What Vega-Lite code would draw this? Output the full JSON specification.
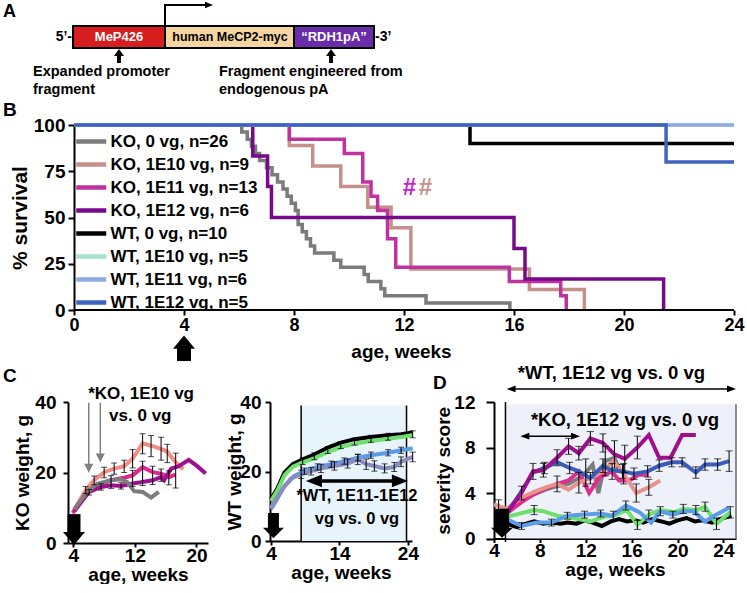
{
"$schema":"https://vega.github.io/schema/vega-lite/v6.json",
"padding":{"left":2,"top":0,"right":0,"bottom":0},
"background":"white",
"columns":1,
"align":"none",
"spacing":-6,
"config":{
 "font":"Liberation Sans",
 "view":{"stroke":null},
 "axis":{"grid":false,"domainColor":"black","domainWidth":2,"tickColor":"black","tickWidth":2,"labelColor":"black","titleColor":"black","labelFontWeight":"bold","titleFontWeight":"bold","labelFlush":false,"labelOverlap":false,"labelFont":"Liberation Sans","titleFont":"Liberation Sans"},
 "text":{"fontWeight":"bold","font":"Liberation Sans","color":"black"}
},
"resolve":{"scale":{"color":"independent","x":"independent","y":"independent"},"legend":{"color":"independent"}},
"datasets":{
 "constr":[{"part":"MeP426","x1":70,"x2":162},{"part":"MeCP2","x1":162,"x2":291},{"part":"RDH1pA","x1":291,"x2":371}],
 "surv":[
  {"g":"KO, 0 vg, n=26","t":0,"v":100},{"g":"KO, 0 vg, n=26","t":6.1,"v":96.2},{"g":"KO, 0 vg, n=26","t":6.3,"v":92.3},{"g":"KO, 0 vg, n=26","t":6.45,"v":88.5},{"g":"KO, 0 vg, n=26","t":6.6,"v":84.6},{"g":"KO, 0 vg, n=26","t":6.75,"v":80.8},{"g":"KO, 0 vg, n=26","t":7.0,"v":76.9},{"g":"KO, 0 vg, n=26","t":7.2,"v":73.1},{"g":"KO, 0 vg, n=26","t":7.4,"v":69.2},{"g":"KO, 0 vg, n=26","t":7.6,"v":65.4},{"g":"KO, 0 vg, n=26","t":7.75,"v":61.5},{"g":"KO, 0 vg, n=26","t":7.9,"v":57.7},{"g":"KO, 0 vg, n=26","t":8.05,"v":53.8},{"g":"KO, 0 vg, n=26","t":8.15,"v":46.2},{"g":"KO, 0 vg, n=26","t":8.3,"v":42.3},{"g":"KO, 0 vg, n=26","t":8.45,"v":38.5},{"g":"KO, 0 vg, n=26","t":8.6,"v":34.6},{"g":"KO, 0 vg, n=26","t":8.75,"v":30.8},{"g":"KO, 0 vg, n=26","t":9.45,"v":26.9},{"g":"KO, 0 vg, n=26","t":9.7,"v":23.1},{"g":"KO, 0 vg, n=26","t":10.55,"v":19.2},{"g":"KO, 0 vg, n=26","t":10.7,"v":15.4},{"g":"KO, 0 vg, n=26","t":11.16,"v":11.5},{"g":"KO, 0 vg, n=26","t":11.3,"v":7.7},{"g":"KO, 0 vg, n=26","t":12.8,"v":3.8},{"g":"KO, 0 vg, n=26","t":15.85,"v":0},
  {"g":"KO, 1E10 vg, n=9","t":0,"v":100},{"g":"KO, 1E10 vg, n=9","t":7.83,"v":88.9},{"g":"KO, 1E10 vg, n=9","t":8.68,"v":77.8},{"g":"KO, 1E10 vg, n=9","t":9.7,"v":66.7},{"g":"KO, 1E10 vg, n=9","t":10.68,"v":55.6},{"g":"KO, 1E10 vg, n=9","t":11.53,"v":44.4},{"g":"KO, 1E10 vg, n=9","t":12.25,"v":22.2},{"g":"KO, 1E10 vg, n=9","t":16.56,"v":11.1},{"g":"KO, 1E10 vg, n=9","t":18.56,"v":0},
  {"g":"KO, 1E11 vg, n=13","t":0,"v":100},{"g":"KO, 1E11 vg, n=13","t":7.83,"v":92.3},{"g":"KO, 1E11 vg, n=13","t":9.83,"v":84.6},{"g":"KO, 1E11 vg, n=13","t":10.5,"v":69.2},{"g":"KO, 1E11 vg, n=13","t":10.8,"v":61.5},{"g":"KO, 1E11 vg, n=13","t":11.04,"v":53.8},{"g":"KO, 1E11 vg, n=13","t":11.4,"v":38.5},{"g":"KO, 1E11 vg, n=13","t":11.7,"v":23.1},{"g":"KO, 1E11 vg, n=13","t":15.83,"v":15.4},{"g":"KO, 1E11 vg, n=13","t":17.7,"v":7.7},{"g":"KO, 1E11 vg, n=13","t":17.9,"v":0},
  {"g":"KO, 1E12 vg, n=6","t":0,"v":100},{"g":"KO, 1E12 vg, n=6","t":6.5,"v":83.3},{"g":"KO, 1E12 vg, n=6","t":7.04,"v":66.7},{"g":"KO, 1E12 vg, n=6","t":7.18,"v":50},{"g":"KO, 1E12 vg, n=6","t":16.0,"v":33.3},{"g":"KO, 1E12 vg, n=6","t":16.4,"v":16.7},{"g":"KO, 1E12 vg, n=6","t":21.44,"v":0},
  {"g":"WT, 0 vg, n=10","t":0,"v":100},{"g":"WT, 0 vg, n=10","t":14.4,"v":90},{"g":"WT, 0 vg, n=10","t":24,"v":90},
  {"g":"WT, 1E10 vg, n=5","t":0,"v":100},{"g":"WT, 1E10 vg, n=5","t":24,"v":100},
  {"g":"WT, 1E11 vg, n=6","t":0,"v":100},{"g":"WT, 1E11 vg, n=6","t":24,"v":100},
  {"g":"WT, 1E12 vg, n=5","t":0,"v":100},{"g":"WT, 1E12 vg, n=5","t":21.53,"v":80},{"g":"WT, 1E12 vg, n=5","t":24,"v":80}
 ],
 "kow":[
  {"g":"KO 1E10","t":4.1,"v":9.4},{"g":"KO 1E10","t":5.6,"v":15.0},{"g":"KO 1E10","t":6.7,"v":17.8},{"g":"KO 1E10","t":8.0,"v":20.1},{"g":"KO 1E10","t":9.3,"v":21.1},{"g":"KO 1E10","t":10.6,"v":21.8},{"g":"KO 1E10","t":11.7,"v":23.9},{"g":"KO 1E10","t":13.0,"v":28.3},{"g":"KO 1E10","t":14.1,"v":27.6},{"g":"KO 1E10","t":15.4,"v":26.7},{"g":"KO 1E10","t":16.2,"v":25.9},{"g":"KO 1E10","t":17.3,"v":22.9},{"g":"KO 1E10","t":18.3,"v":20.9},
  {"g":"KO 1E11","t":3.9,"v":8.5},{"g":"KO 1E11","t":5.8,"v":14.5},{"g":"KO 1E11","t":7.1,"v":16.4},{"g":"KO 1E11","t":8.9,"v":17.8},{"g":"KO 1E11","t":10.6,"v":18.5},{"g":"KO 1E11","t":11.7,"v":19.2},{"g":"KO 1E11","t":13.0,"v":21.5},{"g":"KO 1E11","t":14.3,"v":20.1},{"g":"KO 1E11","t":15.4,"v":19.7},{"g":"KO 1E11","t":16.4,"v":18.7},{"g":"KO 1E11","t":17.3,"v":19.4},
  {"g":"KO 1E12","t":4.1,"v":9.0},{"g":"KO 1E12","t":6.05,"v":14.5},{"g":"KO 1E12","t":7.6,"v":15.9},{"g":"KO 1E12","t":8.9,"v":16.4},{"g":"KO 1E12","t":10.2,"v":16.2},{"g":"KO 1E12","t":11.7,"v":16.9},{"g":"KO 1E12","t":13.0,"v":17.3},{"g":"KO 1E12","t":14.3,"v":17.8},{"g":"KO 1E12","t":15.4,"v":18.7},{"g":"KO 1E12","t":15.8,"v":17.8},{"g":"KO 1E12","t":16.7,"v":21.1},{"g":"KO 1E12","t":17.7,"v":21.8},{"g":"KO 1E12","t":19.0,"v":23.6},{"g":"KO 1E12","t":20.1,"v":21.8},{"g":"KO 1E12","t":21.2,"v":19.7},
  {"g":"KO 0","t":4.1,"v":9.5},{"g":"KO 0","t":5.8,"v":14.5},{"g":"KO 0","t":7.1,"v":16.8},{"g":"KO 0","t":8.9,"v":17.8},{"g":"KO 0","t":10.2,"v":18.1},{"g":"KO 0","t":11.0,"v":17.3},{"g":"KO 0","t":11.9,"v":14.7},{"g":"KO 0","t":13.0,"v":14.5},{"g":"KO 0","t":14.1,"v":12.9},{"g":"KO 0","t":15.1,"v":14.5}
 ],
 "kow_err":[
  {"t":5.6,"lo":14.0,"hi":16.0},{"t":6.7,"lo":16.5,"hi":19.0},{"t":8.0,"lo":18.5,"hi":21.5},{"t":9.3,"lo":19.5,"hi":22.7},{"t":10.6,"lo":20.0,"hi":23.5},{"t":11.7,"lo":21.3,"hi":26.5},{"t":13.0,"lo":25.3,"hi":31.0},{"t":14.1,"lo":24.5,"hi":30.5},{"t":15.4,"lo":23.5,"hi":30.0},{"t":16.2,"lo":22.8,"hi":28.0},{"t":17.3,"lo":15.6,"hi":25.5},
  {"t":6.05,"lo":13.6,"hi":15.2},{"t":7.6,"lo":15.0,"hi":16.8},{"t":8.9,"lo":15.5,"hi":19.1},{"t":10.2,"lo":15.3,"hi":17.1},{"t":11.7,"lo":16.0,"hi":20.6},{"t":13.0,"lo":16.3,"hi":23.2},{"t":14.3,"lo":16.6,"hi":21.8},{"t":15.4,"lo":17.5,"hi":21.0},{"t":16.4,"lo":16.5,"hi":20.5}
 ],
 "wtw":[
  {"g":"WT 0","t":4,"v":12.0},{"g":"WT 0","t":4.97,"v":15.3},{"g":"WT 0","t":5.95,"v":19.7},{"g":"WT 0","t":7.17,"v":22.1},{"g":"WT 0","t":8.63,"v":23.5},{"g":"WT 0","t":10.33,"v":24.9},{"g":"WT 0","t":12.3,"v":26.9},{"g":"WT 0","t":14.2,"v":28.3},{"g":"WT 0","t":16.2,"v":29.3},{"g":"WT 0","t":18.6,"v":29.9},{"g":"WT 0","t":21.1,"v":30.4},{"g":"WT 0","t":23.0,"v":30.7},{"g":"WT 0","t":24.7,"v":31.2},
  {"g":"WT 1E10","t":4,"v":11.5},{"g":"WT 1E10","t":5,"v":14.8},{"g":"WT 1E10","t":6,"v":19.0},{"g":"WT 1E10","t":7.2,"v":21.4},{"g":"WT 1E10","t":8.6,"v":22.6},{"g":"WT 1E10","t":10.3,"v":23.8},{"g":"WT 1E10","t":12.3,"v":25.6},{"g":"WT 1E10","t":14.2,"v":27.0},{"g":"WT 1E10","t":16.2,"v":28.0},{"g":"WT 1E10","t":18.6,"v":28.8},{"g":"WT 1E10","t":21.1,"v":29.4},{"g":"WT 1E10","t":23.0,"v":29.9},{"g":"WT 1E10","t":24.7,"v":30.5},
  {"g":"WT 1E11","t":4,"v":9.2},{"g":"WT 1E11","t":4.73,"v":11.5},{"g":"WT 1E11","t":5.95,"v":15.8},{"g":"WT 1E11","t":7.4,"v":18.7},{"g":"WT 1E11","t":8.87,"v":20.1},{"g":"WT 1E11","t":10.8,"v":21.3},{"g":"WT 1E11","t":12.8,"v":22.1},{"g":"WT 1E11","t":14.7,"v":23.0},{"g":"WT 1E11","t":16.7,"v":24.0},{"g":"WT 1E11","t":18.6,"v":24.7},{"g":"WT 1E11","t":21.1,"v":25.4},{"g":"WT 1E11","t":23.0,"v":26.1},{"g":"WT 1E11","t":24.7,"v":26.7},
  {"g":"WT 1E12","t":4,"v":9.6},{"g":"WT 1E12","t":5.46,"v":14.4},{"g":"WT 1E12","t":6.92,"v":18.0},{"g":"WT 1E12","t":8.39,"v":19.2},{"g":"WT 1E12","t":9.85,"v":20.1},{"g":"WT 1E12","t":11.3,"v":20.9},{"g":"WT 1E12","t":13.26,"v":21.6},{"g":"WT 1E12","t":15.2,"v":22.3},{"g":"WT 1E12","t":16.67,"v":23.5},{"g":"WT 1E12","t":17.9,"v":22.1},{"g":"WT 1E12","t":19.1,"v":21.6},{"g":"WT 1E12","t":20.6,"v":20.9},{"g":"WT 1E12","t":22.0,"v":21.3},{"g":"WT 1E12","t":23.0,"v":22.8},{"g":"WT 1E12","t":24.7,"v":24.2}
 ],
 "wtw_err":[
  {"t":8.4,"lo":18.0,"hi":20.4},{"t":9.85,"lo":19.0,"hi":21.2},{"t":11.3,"lo":19.7,"hi":22.1},{"t":13.26,"lo":20.4,"hi":22.8},{"t":15.2,"lo":21.0,"hi":23.6},{"t":16.67,"lo":22.0,"hi":25.0},{"t":17.9,"lo":20.6,"hi":23.6},{"t":19.1,"lo":20.1,"hi":23.1},{"t":20.6,"lo":19.6,"hi":22.2},{"t":22.0,"lo":20.0,"hi":22.6},{"t":23.0,"lo":21.4,"hi":24.2},{"t":24.7,"lo":22.8,"hi":25.6},
  {"t":8.87,"lo":19.2,"hi":21.0},{"t":10.8,"lo":20.4,"hi":22.2},{"t":12.8,"lo":21.2,"hi":23.0},{"t":14.7,"lo":22.1,"hi":23.9},{"t":16.7,"lo":23.1,"hi":24.9},{"t":18.6,"lo":23.8,"hi":25.6},{"t":21.1,"lo":24.5,"hi":26.3},{"t":23.0,"lo":25.2,"hi":27.0},
  {"t":8.63,"lo":22.0,"hi":24.0},{"t":10.33,"lo":23.4,"hi":25.4},{"t":12.3,"lo":25.2,"hi":27.2},{"t":14.2,"lo":26.6,"hi":28.6},{"t":16.2,"lo":27.6,"hi":29.6},{"t":18.6,"lo":28.4,"hi":30.4},{"t":21.1,"lo":29.0,"hi":31.0},{"t":24.7,"lo":29.7,"hi":31.7}
 ],
 "sev":[
  {"g":"WT 0","t":5.1,"v":1.3},{"g":"WT 0","t":6.0,"v":1.0},{"g":"WT 0","t":6.8,"v":1.3},{"g":"WT 0","t":7.5,"v":1.5},{"g":"WT 0","t":8.3,"v":1.3},{"g":"WT 0","t":9.0,"v":1.4},{"g":"WT 0","t":9.8,"v":1.3},{"g":"WT 0","t":10.4,"v":1.4},{"g":"WT 0","t":11.2,"v":1.3},{"g":"WT 0","t":11.9,"v":1.6},{"g":"WT 0","t":12.6,"v":1.4},{"g":"WT 0","t":13.4,"v":1.1},{"g":"WT 0","t":14.2,"v":1.5},{"g":"WT 0","t":14.9,"v":1.7},{"g":"WT 0","t":15.6,"v":1.5},{"g":"WT 0","t":16.3,"v":1.6},{"g":"WT 0","t":17.0,"v":1.4},{"g":"WT 0","t":17.8,"v":1.7},{"g":"WT 0","t":18.6,"v":1.5},{"g":"WT 0","t":19.3,"v":1.3},{"g":"WT 0","t":20.0,"v":1.6},{"g":"WT 0","t":20.8,"v":1.8},{"g":"WT 0","t":21.5,"v":1.5},{"g":"WT 0","t":22.2,"v":1.6},{"g":"WT 0","t":23.0,"v":1.4},{"g":"WT 0","t":23.7,"v":1.7},{"g":"WT 0","t":24.7,"v":2.0},
  {"g":"WT 1E10","t":5.1,"v":1.9},{"g":"WT 1E10","t":6.3,"v":2.2},{"g":"WT 1E10","t":7.5,"v":2.5},{"g":"WT 1E10","t":8.3,"v":2.4},{"g":"WT 1E10","t":9.5,"v":2.0},{"g":"WT 1E10","t":10.9,"v":1.8},{"g":"WT 1E10","t":12.4,"v":1.5},{"g":"WT 1E10","t":13.6,"v":1.9},{"g":"WT 1E10","t":14.4,"v":2.0},{"g":"WT 1E10","t":15.6,"v":2.5},{"g":"WT 1E10","t":16.5,"v":1.2},{"g":"WT 1E10","t":17.5,"v":2.1},{"g":"WT 1E10","t":18.5,"v":2.5},{"g":"WT 1E10","t":19.7,"v":2.3},{"g":"WT 1E10","t":20.5,"v":2.6},{"g":"WT 1E10","t":21.7,"v":2.5},{"g":"WT 1E10","t":22.4,"v":2.8},{"g":"WT 1E10","t":23.4,"v":1.3},{"g":"WT 1E10","t":24.6,"v":2.3},
  {"g":"WT 1E11","t":5.1,"v":1.7},{"g":"WT 1E11","t":6.4,"v":1.1},{"g":"WT 1E11","t":7.7,"v":1.4},{"g":"WT 1E11","t":9.0,"v":1.4},{"g":"WT 1E11","t":10.4,"v":2.0},{"g":"WT 1E11","t":11.9,"v":2.1},{"g":"WT 1E11","t":13.3,"v":2.2},{"g":"WT 1E11","t":14.3,"v":2.0},{"g":"WT 1E11","t":15.5,"v":2.9},{"g":"WT 1E11","t":16.7,"v":2.3},{"g":"WT 1E11","t":17.7,"v":1.4},{"g":"WT 1E11","t":18.5,"v":2.4},{"g":"WT 1E11","t":19.6,"v":2.1},{"g":"WT 1E11","t":20.6,"v":2.4},{"g":"WT 1E11","t":21.4,"v":2.4},{"g":"WT 1E11","t":22.4,"v":1.5},{"g":"WT 1E11","t":23.4,"v":2.1},{"g":"WT 1E11","t":24.5,"v":2.7},
  {"g":"KO 0","t":5.1,"v":2.5},{"g":"KO 0","t":6.3,"v":3.3},{"g":"KO 0","t":7.5,"v":3.9},{"g":"KO 0","t":8.5,"v":4.3},{"g":"KO 0","t":9.5,"v":4.6},{"g":"KO 0","t":10.5,"v":4.8},{"g":"KO 0","t":11.4,"v":5.3},{"g":"KO 0","t":12.0,"v":5.8},{"g":"KO 0","t":12.6,"v":6.5},{"g":"KO 0","t":13.1,"v":4.0},{"g":"KO 0","t":13.7,"v":6.8},{"g":"KO 0","t":14.5,"v":7.1},{"g":"KO 0","t":14.9,"v":6.2},
  {"g":"KO 1E11","t":5.1,"v":2.2},{"g":"KO 1E11","t":6.4,"v":3.2},{"g":"KO 1E11","t":7.5,"v":3.9},{"g":"KO 1E11","t":8.5,"v":4.4},{"g":"KO 1E11","t":9.5,"v":4.8},{"g":"KO 1E11","t":10.5,"v":5.1},{"g":"KO 1E11","t":11.4,"v":5.9},{"g":"KO 1E11","t":12.3,"v":4.0},{"g":"KO 1E11","t":13.2,"v":5.4},{"g":"KO 1E11","t":14.3,"v":5.9},{"g":"KO 1E11","t":14.9,"v":5.1},{"g":"KO 1E11","t":15.8,"v":5.1},{"g":"KO 1E11","t":16.6,"v":5.6},{"g":"KO 1E11","t":17.5,"v":5.6},
  {"g":"KO 1E10","t":4.0,"v":3.0},{"g":"KO 1E10","t":5.1,"v":2.6},{"g":"KO 1E10","t":6.4,"v":3.6},{"g":"KO 1E10","t":7.5,"v":4.1},{"g":"KO 1E10","t":8.5,"v":4.5},{"g":"KO 1E10","t":9.5,"v":4.8},{"g":"KO 1E10","t":10.5,"v":4.3},{"g":"KO 1E10","t":11.4,"v":4.9},{"g":"KO 1E10","t":12.4,"v":5.3},{"g":"KO 1E10","t":13.5,"v":5.9},{"g":"KO 1E10","t":14.4,"v":6.8},{"g":"KO 1E10","t":15.3,"v":5.7},{"g":"KO 1E10","t":16.4,"v":4.0},{"g":"KO 1E10","t":17.5,"v":4.5},{"g":"KO 1E10","t":18.5,"v":5.1},
  {"g":"WT 1E12","t":5.1,"v":2.2},{"g":"WT 1E12","t":6.3,"v":4.0},{"g":"WT 1E12","t":7.4,"v":5.8},{"g":"WT 1E12","t":8.4,"v":6.2},{"g":"WT 1E12","t":9.5,"v":6.7},{"g":"WT 1E12","t":10.6,"v":6.2},{"g":"WT 1E12","t":11.4,"v":5.9},{"g":"WT 1E12","t":12.4,"v":5.3},{"g":"WT 1E12","t":13.5,"v":6.4},{"g":"WT 1E12","t":14.2,"v":6.0},{"g":"WT 1E12","t":15.2,"v":5.9},{"g":"WT 1E12","t":16.2,"v":5.7},{"g":"WT 1E12","t":17.4,"v":5.9},{"g":"WT 1E12","t":18.4,"v":6.4},{"g":"WT 1E12","t":19.5,"v":6.7},{"g":"WT 1E12","t":20.4,"v":6.7},{"g":"WT 1E12","t":21.6,"v":5.8},{"g":"WT 1E12","t":22.4,"v":6.5},{"g":"WT 1E12","t":23.5,"v":6.5},{"g":"WT 1E12","t":24.5,"v":6.8},
  {"g":"KO 1E12","t":5.1,"v":2.2},{"g":"KO 1E12","t":6.4,"v":4.0},{"g":"KO 1E12","t":7.4,"v":5.9},{"g":"KO 1E12","t":8.3,"v":6.0},{"g":"KO 1E12","t":9.5,"v":7.1},{"g":"KO 1E12","t":10.5,"v":8.1},{"g":"KO 1E12","t":11.4,"v":7.5},{"g":"KO 1E12","t":12.4,"v":8.8},{"g":"KO 1E12","t":13.5,"v":8.4},{"g":"KO 1E12","t":14.5,"v":7.4},{"g":"KO 1E12","t":15.4,"v":7.0},{"g":"KO 1E12","t":16.5,"v":8.0},{"g":"KO 1E12","t":17.5,"v":9.1},{"g":"KO 1E12","t":18.4,"v":7.1},{"g":"KO 1E12","t":19.4,"v":7.1},{"g":"KO 1E12","t":20.4,"v":9.1},{"g":"KO 1E12","t":21.6,"v":9.1}
 ],
 "sev_err":[
  {"t":4.4,"lo":2.4,"hi":3.4},
  {"t":6.4,"lo":3.4,"hi":4.6},{"t":7.4,"lo":5.2,"hi":6.6},{"t":8.3,"lo":5.4,"hi":6.6},{"t":9.5,"lo":6.4,"hi":7.8},{"t":10.5,"lo":7.4,"hi":8.8},{"t":11.4,"lo":6.9,"hi":8.1},{"t":12.4,"lo":8.2,"hi":9.4},{"t":13.5,"lo":7.6,"hi":9.2},{"t":14.5,"lo":6.2,"hi":8.6},{"t":15.4,"lo":5.8,"hi":8.2},{"t":16.5,"lo":7.0,"hi":9.0},
  {"t":8.4,"lo":5.7,"hi":6.7},{"t":10.6,"lo":5.7,"hi":6.7},{"t":12.4,"lo":4.8,"hi":5.8},{"t":13.5,"lo":5.8,"hi":7.0},{"t":15.2,"lo":5.3,"hi":6.5},{"t":16.2,"lo":5.2,"hi":6.2},{"t":17.4,"lo":5.4,"hi":6.4},{"t":18.4,"lo":5.9,"hi":6.9},{"t":19.5,"lo":6.3,"hi":7.1},{"t":20.4,"lo":6.3,"hi":7.1},{"t":21.6,"lo":5.3,"hi":6.3},{"t":22.4,"lo":6.0,"hi":7.0},{"t":23.5,"lo":6.0,"hi":7.0},{"t":24.5,"lo":5.9,"hi":7.7},
  {"t":9.5,"lo":4.1,"hi":5.5},{"t":11.4,"lo":4.0,"hi":5.8},{"t":12.0,"lo":4.6,"hi":7.0},{"t":13.7,"lo":5.5,"hi":8.1},{"t":15.3,"lo":4.8,"hi":6.6},{"t":16.4,"lo":3.2,"hi":4.8},{"t":17.5,"lo":3.8,"hi":5.2},{"t":14.3,"lo":5.2,"hi":6.6},
  {"t":5.1,"lo":1.4,"hi":2.4},{"t":6.4,"lo":0.8,"hi":1.4},{"t":7.5,"lo":2.1,"hi":2.9},{"t":9.0,"lo":1.1,"hi":1.7},{"t":10.4,"lo":1.7,"hi":2.3},{"t":11.9,"lo":1.8,"hi":2.4},{"t":13.3,"lo":1.9,"hi":2.5},{"t":14.4,"lo":1.6,"hi":2.4},{"t":15.5,"lo":2.5,"hi":3.3},{"t":16.5,"lo":0.8,"hi":1.6},{"t":17.5,"lo":1.7,"hi":2.5},{"t":18.5,"lo":2.0,"hi":2.8},{"t":19.6,"lo":1.8,"hi":2.4},{"t":20.5,"lo":2.2,"hi":3.0},{"t":21.6,"lo":2.1,"hi":2.9},{"t":22.4,"lo":2.4,"hi":3.2},{"t":23.4,"lo":0.8,"hi":1.8},{"t":24.6,"lo":1.8,"hi":2.8}
 ]
},
"concat":[
 {
  "width":676,"height":107,
  "layer":[
   {"data":{"name":"constr"},"mark":{"type":"rect","stroke":"black","strokeWidth":2},
    "encoding":{"x":{"field":"x1","type":"quantitative","scale":{"domain":[65,741],"nice":false,"zero":false},"axis":null},"x2":{"field":"x2"},
     "y":{"datum":26,"type":"quantitative","scale":{"domain":[0,107],"reverse":true,"nice":false,"zero":false},"axis":null},"y2":{"datum":48},
     "color":{"field":"part","type":"nominal","scale":{"domain":["MeP426","MeCP2","RDH1pA"],"range":["#d61e1e","#f6d6a0","#6a2caa"]},"legend":null}}},
   {"data":{"values":[{"lab":"MeP426","x":116},{"lab":"“RDH1pA”","x":331}]},"mark":{"type":"text","color":"white","fontSize":13},
    "encoding":{"x":{"field":"x","type":"quantitative","axis":null},"y":{"datum":37,"type":"quantitative","axis":null},"text":{"field":"lab"}}},
   {"data":{"values":[{"lab":"human MeCP2-myc","x":227}]},"mark":{"type":"text","color":"black","fontSize":12.5},
    "encoding":{"x":{"field":"x","type":"quantitative","axis":null},"y":{"datum":37,"type":"quantitative","axis":null},"text":{"field":"lab"}}},
   {"data":{"values":[{"lab":"5’-","x":69}]},"mark":{"type":"text","align":"right","fontSize":14},
    "encoding":{"x":{"field":"x","type":"quantitative","axis":null},"y":{"datum":37,"type":"quantitative","axis":null},"text":{"field":"lab"}}},
   {"data":{"values":[{"lab":"-3’","x":372}]},"mark":{"type":"text","align":"left","fontSize":14},
    "encoding":{"x":{"field":"x","type":"quantitative","axis":null},"y":{"datum":37,"type":"quantitative","axis":null},"text":{"field":"lab"}}},
   {"data":{"values":[{"lab":"Expanded promoter","x":30,"y":76},{"lab":"fragment","x":30,"y":94},{"lab":"Fragment engineered from","x":216,"y":76},{"lab":"endogenous pA","x":216,"y":94}]},
    "mark":{"type":"text","align":"left","baseline":"alphabetic","fontSize":14.5},
    "encoding":{"x":{"field":"x","type":"quantitative","axis":null},"y":{"field":"y","type":"quantitative","axis":null},"text":{"field":"lab"}}},
   {"data":{"values":[{"x":162,"y":26,"o":0},{"x":162,"y":5,"o":1},{"x":204,"y":5,"o":2}]},"mark":{"type":"line","color":"black","strokeWidth":2},
    "encoding":{"x":{"field":"x","type":"quantitative","axis":null},"y":{"field":"y","type":"quantitative","axis":null},"order":{"field":"o"}}},
   {"data":{"values":[{"x":206,"y":5}]},"mark":{"type":"point","shape":"M-1,-0.8L-1,0.8L1,0Z","size":64,"filled":true,"opacity":1,"color":"black","strokeWidth":0},
    "encoding":{"x":{"field":"x","type":"quantitative","axis":null},"y":{"field":"y","type":"quantitative","axis":null}}},
   {"data":{"values":[{"x":116},{"x":328}]},"mark":{"type":"rule","color":"black","strokeWidth":4},
    "encoding":{"x":{"field":"x","type":"quantitative","axis":null},"y":{"datum":55,"type":"quantitative","axis":null},"y2":{"datum":63}}},
   {"data":{"values":[{"x":116},{"x":328}]},"mark":{"type":"point","shape":"M-1,0.7L1,0.7L0,-0.7Z","size":100,"filled":true,"opacity":1,"color":"black","strokeWidth":0},
    "encoding":{"x":{"field":"x","type":"quantitative","axis":null},"y":{"datum":52.5,"type":"quantitative","axis":null}}},
   {"data":{"values":[{"lab":"A","x":0,"y":12}]},"mark":{"type":"text","align":"left","fontSize":18},
    "encoding":{"x":{"field":"x","type":"quantitative","axis":null},"y":{"field":"y","type":"quantitative","axis":null},"text":{"field":"lab"}}}
  ]
 },
 {
  "width":666,"height":185,
  "layer":[
   {"data":{"name":"surv"},"mark":{"type":"line","interpolate":"step-after","strokeWidth":3.5},
    "encoding":{
     "x":{"field":"t","type":"quantitative","scale":{"domain":[-0.218,24],"nice":false,"zero":false},"axis":{"values":[0,4,8,12,16,20,24],"domain":false,"title":"age, weeks","labelFontSize":18,"titleFontSize":19,"tickSize":5,"labelPadding":1,"titlePadding":8}},
     "y":{"field":"v","type":"quantitative","scale":{"domain":[0,100],"nice":false},"axis":{"values":[0,25,50,75,100],"offset":-6,"title":"% survival","labelFontSize":19,"titleFontSize":21,"tickSize":6,"labelPadding":3,"titlePadding":3}},
     "color":{"field":"g","type":"nominal","scale":{"domain":["KO, 0 vg, n=26","KO, 1E10 vg, n=9","KO, 1E11 vg, n=13","KO, 1E12 vg, n=6","WT, 0 vg, n=10","WT, 1E10 vg, n=5","WT, 1E11 vg, n=6","WT, 1E12 vg, n=5"],"range":["#7b7b7b","#c4908a","#c032a0","#760a8a","#000000","#a6e3cc","#8faadf","#3f63c0"]},
      "legend":{"orient":"none","legendX":14.75,"legendY":8,"title":null,"symbolType":"M-3,0H3","symbolSize":100,"symbolStrokeWidth":4.5,"symbolOpacity":1,"symbolFillColor":"transparent","labelFontSize":17,"labelFontWeight":"bold","labelFont":"Liberation Sans","labelColor":"black","rowPadding":4,"labelOffset":10.75,"labelLimit":300,"padding":0}}}},
   {"data":{"values":[{}]},"mark":{"type":"rule","strokeWidth":2,"color":"black"},"encoding":{"x":{"datum":0,"type":"quantitative"},"x2":{"datum":24},"y":{"datum":0,"type":"quantitative"}}},
   {"data":{"values":[{}]},"mark":{"type":"text","text":"#","fontSize":24,"color":"#c81ec8"},"encoding":{"x":{"datum":12.2,"type":"quantitative"},"y":{"datum":66,"type":"quantitative"}}},
   {"data":{"values":[{}]},"mark":{"type":"text","text":"#","fontSize":24,"color":"#c4908a"},"encoding":{"x":{"datum":12.78,"type":"quantitative"},"y":{"datum":66,"type":"quantitative"}}},
   {"data":{"values":[{}]},"mark":{"type":"rule","strokeWidth":14,"color":"black"},"encoding":{"x":{"datum":4,"type":"quantitative"},"y":{"datum":-20.5,"type":"quantitative"},"y2":{"datum":-27.6}}},
   {"data":{"values":[{}]},"mark":{"type":"point","shape":"M-1,0.6L1,0.6L0,-0.6Z","size":484,"filled":true,"opacity":1,"color":"black","strokeWidth":0},"encoding":{"x":{"datum":4,"type":"quantitative"},"y":{"datum":-17.4,"type":"quantitative"}}},
   {"data":{"values":[{}]},"mark":{"type":"text","text":"B","fontSize":19,"align":"left"},"encoding":{"x":{"datum":-2.58,"type":"quantitative"},"y":{"datum":108,"type":"quantitative"}}}
  ]
 },
 {"hconcat":[
  {"hconcat":[
  {
   "width":140,"height":141,
   "layer":[
    {"data":{"name":"kow"},"mark":{"type":"line","strokeWidth":4},"encoding":{
     "x":{"field":"t","type":"quantitative","scale":{"domain":[3.3,21.5],"nice":false,"zero":false},"axis":{"values":[4,8,12,16,20],"title":"age, weeks","labelFontSize":19,"titleFontSize":19,"tickSize":4,"labelPadding":-1,"titlePadding":0}},
     "y":{"field":"v","type":"quantitative","scale":{"domain":[0,40],"nice":false},"axis":{"values":[0,10,20,30,40],"title":"KO weight, g","labelFontSize":19,"titleFontSize":19,"tickSize":5,"labelPadding":7,"titlePadding":2}},
     "color":{"field":"g","type":"nominal","scale":{"domain":["KO 1E10","KO 1E11","KO 1E12","KO 0"],"range":["#f08e86","#e0268e","#a0108e","#7d7d7d"]},"legend":null}}},
    {"data":{"name":"kow_err"},"mark":{"type":"errorbar","ticks":true,"size":6,"thickness":1,"color":"black"},"encoding":{"x":{"field":"t","type":"quantitative","title":"age, weeks"},"y":{"field":"lo","type":"quantitative","title":"KO weight, g"},"y2":{"field":"hi"}}},
    {"data":{"values":[{"t":6.0,"a":39.8,"b":22.0},{"t":7.5,"a":39.8,"b":24.9}]},"mark":{"type":"rule","color":"#808080","strokeWidth":1.5},"encoding":{"x":{"field":"t","type":"quantitative","title":"age, weeks"},"y":{"field":"a","type":"quantitative","title":"KO weight, g"},"y2":{"field":"b"}}},
    {"data":{"values":[{"t":6.0,"c":21.2},{"t":7.5,"c":24.1}]},"mark":{"type":"point","shape":"M-1,-1L1,-1L0,1Z","size":81,"filled":true,"opacity":1,"color":"#808080","strokeWidth":0},"encoding":{"x":{"field":"t","type":"quantitative","title":"age, weeks"},"y":{"field":"c","type":"quantitative","title":"KO weight, g"}}},
    {"data":{"values":[{}]},"mark":{"type":"rule","strokeWidth":13,"color":"black"},"encoding":{"x":{"datum":4.08,"type":"quantitative"},"y":{"datum":8.2,"type":"quantitative"},"y2":{"datum":2.8}}},
    {"data":{"values":[{}]},"mark":{"type":"point","shape":"M-1,-0.6L1,-0.6L0,0.6Z","size":484,"filled":true,"opacity":1,"color":"black","strokeWidth":0},"encoding":{"x":{"datum":4.08,"type":"quantitative"},"y":{"datum":1.28,"type":"quantitative"}}},
    {"data":{"values":[{}]},"mark":{"type":"text","text":"*KO, 1E10 vg","fontSize":17},"encoding":{"x":{"datum":12.8,"type":"quantitative"},"y":{"datum":42.3,"type":"quantitative"}}},
    {"data":{"values":[{}]},"mark":{"type":"text","text":"vs. 0 vg","fontSize":17},"encoding":{"x":{"datum":12.7,"type":"quantitative"},"y":{"datum":36.0,"type":"quantitative"}}},
    {"data":{"values":[{}]},"mark":{"type":"text","text":"C","fontSize":19,"align":"left"},"encoding":{"x":{"datum":-5.16,"type":"quantitative"},"y":{"datum":47.4,"type":"quantitative"}}}
   ]
  },
  {
   "width":142,"height":139,
   "layer":[
    {"data":{"values":[{}]},"mark":{"type":"rect","color":"#e8f4fc"},"encoding":{"x":{"datum":8.4,"type":"quantitative"},"x2":{"datum":23.8},"y":{"datum":0,"type":"quantitative"},"y2":{"datum":39}}},
    {"data":{"values":[{"t":8.4},{"t":23.8}]},"mark":{"type":"rule","color":"black","strokeWidth":1.5},"encoding":{"x":{"field":"t","type":"quantitative","title":"age, weeks"},"y":{"datum":0,"type":"quantitative"},"y2":{"datum":39}}},
    {"data":{"name":"wtw"},"mark":{"type":"line","strokeWidth":4},"encoding":{
     "x":{"field":"t","type":"quantitative","scale":{"domain":[3.85,24.6],"nice":false,"zero":false},"axis":{"values":[4,9,14,19,24],"title":"age, weeks","labelFontSize":19,"titleFontSize":19,"tickSize":4,"labelPadding":-1,"titlePadding":0}},
     "y":{"field":"v","type":"quantitative","scale":{"domain":[0,40],"nice":false},"axis":{"values":[0,10,20,30,40],"title":"WT weight, g","labelFontSize":19,"titleFontSize":19,"tickSize":5,"labelPadding":4,"titlePadding":-5}},
     "color":{"field":"g","type":"nominal","scale":{"domain":["WT 0","WT 1E10","WT 1E11","WT 1E12"],"range":["#000000","#6ee06e","#5b9be8","#8a8cc0"]},"legend":null}}},
    {"data":{"name":"wtw_err"},"mark":{"type":"errorbar","ticks":true,"size":6,"thickness":1,"color":"black"},"encoding":{"x":{"field":"t","type":"quantitative","title":"age, weeks"},"y":{"field":"lo","type":"quantitative","title":"WT weight, g"},"y2":{"field":"hi"}}},
    {"data":{"values":[{}]},"mark":{"type":"rule","strokeWidth":3.5,"color":"black"},"encoding":{"x":{"datum":10.4,"type":"quantitative"},"x2":{"datum":22.7},"y":{"datum":17.3,"type":"quantitative"}}},
    {"data":{"values":[{}]},"mark":{"type":"point","shape":"M1,-0.8L1,0.8L-1,0Z","size":256,"filled":true,"opacity":1,"color":"black","strokeWidth":0},"encoding":{"x":{"datum":10.27,"type":"quantitative"},"y":{"datum":17.3,"type":"quantitative"}}},
    {"data":{"values":[{}]},"mark":{"type":"point","shape":"M-1,-0.8L-1,0.8L1,0Z","size":256,"filled":true,"opacity":1,"color":"black","strokeWidth":0},"encoding":{"x":{"datum":22.83,"type":"quantitative"},"y":{"datum":17.3,"type":"quantitative"}}},
    {"data":{"values":[{}]},"mark":{"type":"text","text":"*WT, 1E11-1E12","fontSize":16.5},"encoding":{"x":{"datum":16.56,"type":"quantitative"},"y":{"datum":12.95,"type":"quantitative"}}},
    {"data":{"values":[{}]},"mark":{"type":"text","text":"vg vs. 0 vg","fontSize":16.5},"encoding":{"x":{"datum":16.56,"type":"quantitative"},"y":{"datum":6.33,"type":"quantitative"}}},
    {"data":{"values":[{}]},"mark":{"type":"rule","strokeWidth":11,"color":"black"},"encoding":{"x":{"datum":4.35,"type":"quantitative"},"y":{"datum":8.06,"type":"quantitative"},"y2":{"datum":3.3}}},
    {"data":{"values":[{}]},"mark":{"type":"point","shape":"M-1,-0.5L1,-0.5L0,0.5Z","size":441,"filled":true,"opacity":1,"color":"black","strokeWidth":0},"encoding":{"x":{"datum":4.35,"type":"quantitative"},"y":{"datum":2.3,"type":"quantitative"}}}
   ]
  }
  ],"spacing":11,"resolve":{"scale":{"color":"independent","x":"independent","y":"independent"},"legend":{"color":"independent"}}},
  {
   "width":242,"height":136.5,
   "layer":[
    {"data":{"values":[{}]},"mark":{"type":"rect","color":"#eef1f9"},"encoding":{"x":{"datum":5,"type":"quantitative"},"x2":{"datum":25.1},"y":{"datum":0,"type":"quantitative"},"y2":{"datum":11.8}}},
    {"data":{"values":[{}]},"mark":{"type":"rule","color":"black","strokeWidth":1.5},"encoding":{"x":{"datum":5,"type":"quantitative"},"y":{"datum":-0.3,"type":"quantitative"},"y2":{"datum":12}}},
    {"data":{"values":[{}]},"mark":{"type":"rule","color":"#666666","strokeWidth":1.5},"encoding":{"x":{"datum":25.1,"type":"quantitative"},"y":{"datum":0,"type":"quantitative"},"y2":{"datum":11.8}}},
    {"data":{"name":"sev"},"mark":{"type":"line","strokeWidth":4},"encoding":{
     "x":{"field":"t","type":"quantitative","scale":{"domain":[4,25.1],"nice":false,"zero":false},"axis":{"values":[4,8,12,16,20,24],"title":"age, weeks","labelFontSize":19,"titleFontSize":19,"tickSize":4,"labelPadding":-1,"titlePadding":0}},
     "y":{"field":"v","type":"quantitative","scale":{"domain":[0,12],"nice":false},"axis":{"values":[0,2,4,6,8,10,12],"title":"severity score","labelFontSize":19,"titleFontSize":19,"tickSize":8,"labelPadding":11,"titlePadding":0}},
     "color":{"field":"g","type":"nominal","scale":{"domain":["WT 0","WT 1E10","WT 1E11","KO 0","KO 1E11","KO 1E10","WT 1E12","KO 1E12"],"range":["#000000","#6ee06e","#5a9de8","#7d7d7d","#e02e8e","#e8928c","#3c5cbc","#a0108e"]},"legend":null}}},
    {"data":{"name":"sev_err"},"mark":{"type":"errorbar","ticks":true,"size":7,"thickness":1,"color":"black"},"encoding":{"x":{"field":"t","type":"quantitative","title":"age, weeks"},"y":{"field":"lo","type":"quantitative","title":"severity score"},"y2":{"field":"hi"}}},
    {"data":{"values":[{"a":5.5,"b":24.7,"y":13.15},{"a":6.7,"b":11.1,"y":9.0}]},"mark":{"type":"rule","strokeWidth":1.5,"color":"black"},"encoding":{"x":{"field":"a","type":"quantitative","title":"age, weeks"},"x2":{"field":"b"},"y":{"field":"y","type":"quantitative","title":"severity score"}}},
    {"data":{"values":[{"a":5.49,"y":13.15},{"a":6.69,"y":9.0}]},"mark":{"type":"point","shape":"M1,-0.75L1,0.75L-1,0Z","size":81,"filled":true,"opacity":1,"color":"black","strokeWidth":0},"encoding":{"x":{"field":"a","type":"quantitative","title":"age, weeks"},"y":{"field":"y","type":"quantitative","title":"severity score"}}},
    {"data":{"values":[{"a":24.71,"y":13.15},{"a":11.11,"y":9.0}]},"mark":{"type":"point","shape":"M-1,-0.75L-1,0.75L1,0Z","size":81,"filled":true,"opacity":1,"color":"black","strokeWidth":0},"encoding":{"x":{"field":"a","type":"quantitative","title":"age, weeks"},"y":{"field":"y","type":"quantitative","title":"severity score"}}},
    {"data":{"values":[{}]},"mark":{"type":"text","text":"*WT, 1E12 vg vs. 0 vg","fontSize":18.5},"encoding":{"x":{"datum":14.24,"type":"quantitative"},"y":{"datum":14.58,"type":"quantitative"}}},
    {"data":{"values":[{}]},"mark":{"type":"text","text":"*KO, 1E12 vg vs. 0 vg","fontSize":18.5},"encoding":{"x":{"datum":15.42,"type":"quantitative"},"y":{"datum":10.42,"type":"quantitative"}}},
    {"data":{"values":[{}]},"mark":{"type":"rule","strokeWidth":14,"color":"black"},"encoding":{"x":{"datum":4.7,"type":"quantitative"},"y":{"datum":2.62,"type":"quantitative"},"y2":{"datum":0.9}}},
    {"data":{"values":[{}]},"mark":{"type":"point","shape":"M-1,-0.45L1,-0.45L0,0.45Z","size":484,"filled":true,"opacity":1,"color":"black","strokeWidth":0},"encoding":{"x":{"datum":4.7,"type":"quantitative"},"y":{"datum":0.51,"type":"quantitative"}}},
    {"data":{"values":[{}]},"mark":{"type":"text","text":"D","fontSize":19,"align":"left"},"encoding":{"x":{"datum":-1.32,"type":"quantitative"},"y":{"datum":13.67,"type":"quantitative"}}}
   ]
  }
 ],"spacing":11,"resolve":{"scale":{"color":"independent","x":"independent","y":"independent"},"legend":{"color":"independent"}}}
]
}
